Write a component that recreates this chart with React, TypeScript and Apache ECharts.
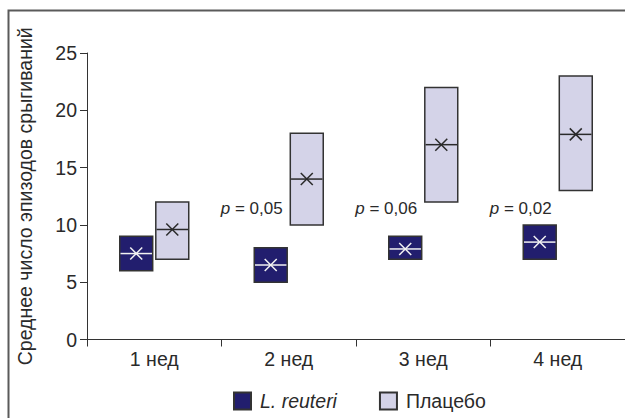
import React, { useEffect, useRef } from "react";
import * as echarts from "echarts";

const weeks = ["1 нед", "2 нед", "3 нед", "4 нед"];
const reuteriMin = [6, 5, 7, 7];
const reuteriMax = [9, 8, 9, 10];
const reuteriMedian = [7.5, 6.5, 7.9, 8.5];
const reuteriMean = [7.5, 6.5, 7.9, 8.5];
const placeboMin = [7, 10, 12, 13];
const placeboMax = [12, 18, 22, 23];
const placeboMedian = [9.6, 14, 17, 17.9];
const placeboMean = [9.6, 14, 17, 17.9];
const pWeekIndex = [1, 2, 3];
const pValues = ["0,05", "0,06", "0,02"];
const pLabelLevel = 11.4;
const yTicks = { min: 0, max: 25, interval: 5 };

const FONT = "'Liberation Sans', Arial, Helvetica, sans-serif";
const TEXT = "#2a2a2a";

function makeRender(sign: number, fill: string, inner: string) {
  return (params: any, api: any) => {
    const c = api.value(0);
    const lo = api.coord([c, api.value(1)]);
    const hi = api.coord([c, api.value(2)]);
    const med = api.coord([c, api.value(3)]);
    const mean = api.coord([c, api.value(4)]);
    const band = api.size([1, 0])[0];
    const w = band * 0.245;
    const cx = lo[0] + sign * band * 0.134;
    const x0 = cx - w / 2;
    const m = 6;
    return {
      type: "group",
      children: [
        {
          type: "rect",
          shape: { x: x0, y: hi[1], width: w, height: lo[1] - hi[1] },
          style: { fill, stroke: "#333", lineWidth: 1.5 },
        },
        {
          type: "line",
          shape: { x1: x0 + 0.75, y1: med[1], x2: x0 + w - 0.75, y2: med[1] },
          style: { stroke: inner, lineWidth: 1.5 },
        },
        {
          type: "line",
          shape: { x1: cx - m, y1: mean[1] - m, x2: cx + m, y2: mean[1] + m },
          style: { stroke: inner, lineWidth: 1.5 },
        },
        {
          type: "line",
          shape: { x1: cx - m, y1: mean[1] + m, x2: cx + m, y2: mean[1] - m },
          style: { stroke: inner, lineWidth: 1.5 },
        },
      ],
    };
  };
}

export default function App() {
  const ref = useRef<HTMLDivElement>(null);
  useEffect(() => {
    if (!ref.current) return;
    const chart = echarts.init(ref.current, null, { renderer: "svg" });
    const reuteriData = weeks.map((_, i) => [i, reuteriMin[i], reuteriMax[i], reuteriMedian[i], reuteriMean[i]]);
    const placeboData = weeks.map((_, i) => [i, placeboMin[i], placeboMax[i], placeboMedian[i], placeboMean[i]]);
    const pData = pWeekIndex.map((w, i) => [w, pLabelLevel, pValues[i]]);
    chart.setOption({
      animation: false,
      textStyle: { fontFamily: FONT },
      graphic: [
        {
          type: "rect",
          shape: { x: 8.5, y: 10.5, width: 800, height: 600 },
          style: { fill: "none", stroke: "#5a5a5a", lineWidth: 2 },
          silent: true,
        },
      ],
      grid: { left: 87, top: 53, width: 539, height: 286.5 },
      legend: {
        data: ["L. reuteri", "Плацебо"],
        left: 228,
        top: 386,
        icon: "rect",
        itemWidth: 17,
        itemHeight: 17,
        itemGap: 42,
        formatter: (name: string) => (name === "L. reuteri" ? "{i|L. reuteri}" : name),
        textStyle: {
          fontFamily: FONT,
          fontSize: 19.5,
          color: TEXT,
          padding: [0, 0, 0, 4],
          rich: { i: { fontStyle: "italic", fontSize: 19.5, fontFamily: FONT, color: TEXT } },
        },
      },
      xAxis: {
        type: "category",
        data: weeks,
        boundaryGap: true,
        axisLine: { lineStyle: { color: "#333", width: 1 } },
        axisTick: { show: true, length: 7, lineStyle: { color: "#333" } },
        axisLabel: { fontSize: 19.5, color: TEXT, margin: 9, fontFamily: FONT },
      },
      yAxis: {
        type: "value",
        min: yTicks.min,
        max: yTicks.max,
        interval: yTicks.interval,
        name: "Среднее число эпизодов срыгиваний",
        nameLocation: "middle",
        nameGap: 52,
        nameTextStyle: { fontSize: 19.5, color: TEXT, fontFamily: FONT },
        splitLine: { show: false },
        axisLine: { show: true, lineStyle: { color: "#333", width: 1 } },
        axisTick: { show: true, length: 7, lineStyle: { color: "#333" } },
        axisLabel: { fontSize: 19.5, color: TEXT, margin: 10, fontFamily: FONT },
      },
      series: [
        {
          name: "L. reuteri",
          type: "custom",
          renderItem: makeRender(-1, "#221e6e", "#f2f2f2"),
          itemStyle: { color: "#221e6e", borderColor: "#333", borderWidth: 1.5 },
          data: reuteriData,
          encode: { x: 0, y: [1, 2] },
        },
        {
          name: "Плацебо",
          type: "custom",
          renderItem: makeRender(1, "#d4d3e8", "#2a2a2a"),
          itemStyle: { color: "#d4d3e8", borderColor: "#333", borderWidth: 1.5 },
          data: placeboData,
          encode: { x: 0, y: [1, 2] },
        },
        {
          name: "p",
          type: "custom",
          silent: true,
          renderItem: (params: any, api: any) => {
            const pt = api.coord([api.value(0), api.value(1)]);
            const v = pData[params.dataIndex][2];
            return {
              type: "text",
              style: {
                x: pt[0] - 37,
                y: pt[1],
                text: "{i|p} = " + v,
                align: "center",
                verticalAlign: "middle",
                fontSize: 17,
                fontFamily: FONT,
                fill: TEXT,
                rich: { i: { fontStyle: "italic", fontSize: 17, fontFamily: FONT, fill: TEXT } },
              },
            };
          },
          data: pData,
          encode: { x: 0, y: 1 },
        },
      ],
    });
    return () => chart.dispose();
  }, []);
  return (
    <div
      ref={ref}
      style={{ position: "absolute", left: 0, top: 0, width: 625, height: 418 }}
    />
  );
}
